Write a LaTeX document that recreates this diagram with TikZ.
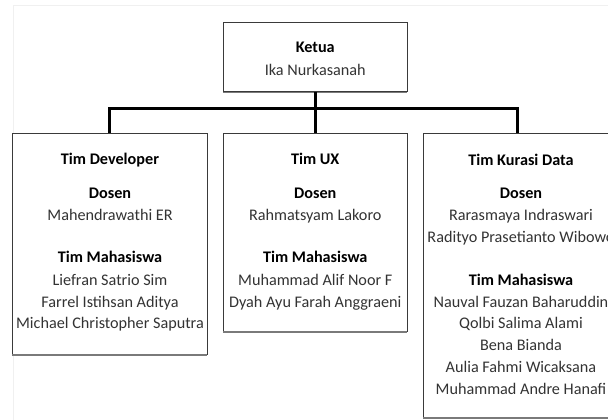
\documentclass[tikz,border=0pt]{standalone}
\usepackage{fontspec}
\setmainfont{Carlito}
\definecolor{boxline}{HTML}{3A3A3A}
\definecolor{nametext}{HTML}{333333}
\definecolor{faint}{HTML}{F0F0F0}
\definecolor{shade}{HTML}{7A7A7A}
\tikzset{
  orgbox/.style={draw=boxline, line width=0.9pt, fill=white, inner sep=0pt},
  boxshade/.style={draw=shade, line width=1.6pt},
  conn/.style={draw=black, line width=3pt, line join=miter},
  linetxt/.style={inner sep=0pt, anchor=base, font=\fontsize{16.2}{18}\selectfont},
  headtxt/.style={linetxt, text=black, font=\fontsize{16.2}{18}\selectfont\bfseries},
  persontxt/.style={linetxt, text=nametext},
}
\newcommand\tline[5]{\node[#1] (#2) at (#3,#4) {#5};}
\begin{document}
\begin{tikzpicture}[x=1pt,y=-1pt]
\useasboundingbox (0,0) rectangle (608,420);
\clip (0,0) rectangle (608,420);
\draw[faint, line width=0.8pt] (13,430) -- (13,5) -- (620,5);
% boxes
\node[orgbox, minimum width=183.5pt, minimum height=69pt] (ketua) at (315.25,57) {};
\node[orgbox, minimum width=194.5pt, minimum height=221pt] (dev) at (109.75,243.5) {};
\node[orgbox, minimum width=183.5pt, minimum height=198pt] (ux) at (315.25,232) {};
\node[orgbox, minimum width=188.5pt, minimum height=284pt] (kd) at (517.75,275) {};
\foreach \b in {ketua,dev,ux,kd}{
  \draw[boxshade] ([yshift=-0.6pt]\b.south west) -- ([yshift=-0.6pt]\b.south east);
}
% connectors
\coordinate (bar) at (315.25,108);
\draw[conn] (ketua.south) -- (bar);
\draw[conn] (dev.north) |- (bar) -| (kd.north);
\draw[conn] (bar) -- (ux.north);
% ketua text
\tline{headtxt}{k-h}{315.25}{53}{Ketua}
\tline{persontxt}{k-n}{315.25}{75}{Ika Nurkasanah}
% developer
\tline{headtxt}{dv-h}{110}{164}{Tim Developer}
\tline{headtxt}{dv-d}{110}{198}{Dosen}
\tline{persontxt}{dv-d1}{110}{220}{Mahendrawathi ER}
\tline{headtxt}{dv-m}{110}{262}{Tim Mahasiswa}
\tline{persontxt}{dv-m1}{110}{285}{Liefran Satrio Sim}
\tline{persontxt}{dv-m2}{110}{307}{Farrel Istihsan Aditya}
\tline{persontxt}{dv-m3}{110}{328}{Michael Christopher Saputra}
% ux
\tline{headtxt}{ux-h}{315.25}{164}{Tim UX}
\tline{headtxt}{ux-d}{315.25}{198}{Dosen}
\tline{persontxt}{ux-d1}{315.25}{220}{Rahmatsyam Lakoro}
\tline{headtxt}{ux-m}{315.25}{262}{Tim Mahasiswa}
\tline{persontxt}{ux-m1}{315.25}{285}{Muhammad Alif Noor F}
\tline{persontxt}{ux-m2}{315.25}{307}{Dyah Ayu Farah Anggraeni}
% kurasi data
\tline{headtxt}{kd-h}{521}{165}{Tim Kurasi Data}
\tline{headtxt}{kd-d}{521}{198}{Dosen}
\tline{persontxt}{kd-d1}{521}{220}{Rarasmaya Indraswari}
\tline{persontxt}{kd-d2}{521}{242}{Radityo Prasetianto Wibowo}
\tline{headtxt}{kd-m}{521}{285}{Tim Mahasiswa}
\tline{persontxt}{kd-m1}{521}{307}{Nauval Fauzan Baharuddin}
\tline{persontxt}{kd-m2}{521}{328}{Qolbi Salima Alami}
\tline{persontxt}{kd-m3}{521}{350}{Bena Bianda}
\tline{persontxt}{kd-m4}{521}{372}{Aulia Fahmi Wicaksana}
\tline{persontxt}{kd-m5}{521}{394}{Muhammad Andre Hanafi}
\end{tikzpicture}
\end{document}
